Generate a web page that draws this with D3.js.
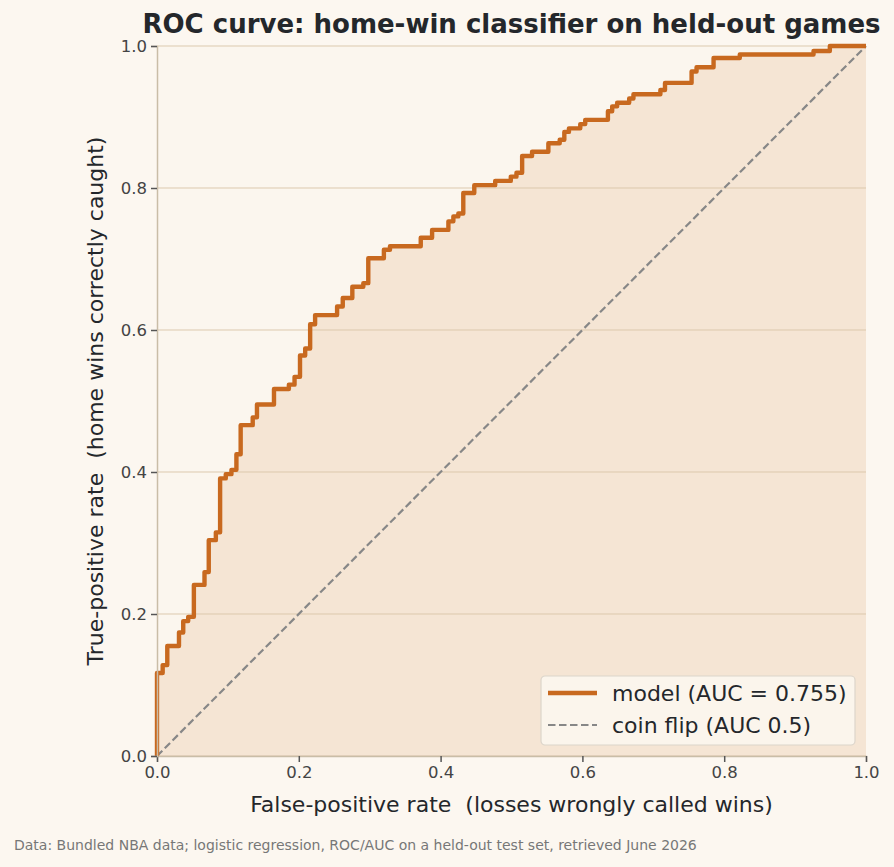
<!DOCTYPE html>
<html>
<head>
<meta charset="utf-8">
<script src="https://cdn.jsdelivr.net/npm/d3@7"></script>
<style>
  html, body { margin: 0; padding: 0; background: #fcf7f0; }
  svg { display: block; font-family: "DejaVu Sans", sans-serif; }
  text { white-space: pre; }
</style>
</head>
<body>
<div id="chart"></div>
<script>
// ROC corner points: at each fpr the curve rises to tpr
const fprSteps = [0, 0, 0.008, 0.0145, 0.031, 0.037, 0.044, 0.052, 0.067, 0.073, 0.083,
    0.089, 0.097, 0.105, 0.112, 0.118, 0.135, 0.141, 0.165, 0.186, 0.194,
    0.2017, 0.209, 0.216, 0.223, 0.254, 0.262, 0.2755, 0.291, 0.298, 0.320,
    0.3286, 0.372, 0.388, 0.411, 0.418, 0.425, 0.432, 0.4475, 0.477, 0.499,
    0.507, 0.515, 0.529, 0.552, 0.568, 0.5745, 0.581, 0.597, 0.604, 0.636,
    0.642, 0.649, 0.666, 0.672, 0.710, 0.7165, 0.754, 0.761, 0.785, 0.822,
    0.926, 0.949, 1.0];
const tprSteps = [0, 0.117, 0.128, 0.155, 0.174, 0.190, 0.196, 0.241, 0.259, 0.304, 0.315,
    0.391, 0.397, 0.403, 0.425, 0.466, 0.477, 0.495, 0.517, 0.523, 0.534,
    0.564, 0.574, 0.608, 0.621, 0.633, 0.645, 0.661, 0.666, 0.701, 0.713,
    0.718, 0.730, 0.741, 0.753, 0.760, 0.764, 0.793, 0.804, 0.810, 0.816,
    0.8215, 0.845, 0.851, 0.863, 0.868, 0.879, 0.884, 0.890, 0.896, 0.908,
    0.915, 0.920, 0.926, 0.932, 0.938, 0.948, 0.964, 0.970, 0.983, 0.988,
    0.993, 1.0, 1.0];
const chanceLine = [[0, 0], [1, 1]];
const tickValues = [0, 0.2, 0.4, 0.6, 0.8, 1.0];
const legendLabels = ["model (AUC = 0.755)", "coin flip (AUC 0.5)"];

const rocData = fprSteps.map((f, i) => ({ fpr: f, tpr: tprSteps[i] }));

const width = 894, height = 867;
const margin = { top: 46, right: 28, bottom: 111, left: 157 };
const innerW = width - margin.left - margin.right;
const innerH = height - margin.top - margin.bottom;

const svg = d3.select("#chart").append("svg")
    .attr("width", width)
    .attr("height", height);

svg.append("rect").attr("width", width).attr("height", height).attr("fill", "#fcf7f0");

const g = svg.append("g")
    .attr("transform", `translate(${margin.left},${margin.top})`);

const x = d3.scaleLinear().domain([0, 1]).range([0, innerW]);
const y = d3.scaleLinear().domain([0, 1]).range([innerH, 0]);

// plot background
g.append("rect").attr("width", innerW).attr("height", innerH).attr("fill", "#fbf6ee");

// area under the ROC
const area = d3.area()
    .curve(d3.curveStepAfter)
    .x(d => x(d.fpr))
    .y0(y(0))
    .y1(d => y(d.tpr));

g.append("path")
    .datum(rocData)
    .attr("d", area)
    .attr("fill", "#f5e5d4");

// horizontal grid
g.append("g")
    .selectAll("line")
    .data(tickValues)
    .join("line")
    .attr("x1", 0).attr("x2", innerW)
    .attr("y1", d => y(d)).attr("y2", d => y(d))
    .attr("stroke", "#dac7ab")
    .attr("stroke-opacity", 0.95)
    .attr("stroke-width", 1);

// coin flip diagonal
g.append("path")
    .datum(chanceLine)
    .attr("d", d3.line().x(d => x(d[0])).y(d => y(d[1])))
    .attr("fill", "none")
    .attr("stroke", "#878787")
    .attr("stroke-width", 2.2)
    .attr("stroke-dasharray", "7.5,3.5");

// ROC line
const line = d3.line()
    .curve(d3.curveStepAfter)
    .x(d => x(d.fpr))
    .y(d => y(d.tpr));

g.append("path")
    .datum(rocData)
    .attr("d", line)
    .attr("fill", "none")
    .attr("stroke", "#c8691f")
    .attr("stroke-width", 4.4)
    .attr("stroke-linejoin", "round");

// axes
const xAxis = g.append("g")
    .attr("transform", `translate(0,${innerH})`)
    .call(d3.axisBottom(x).tickValues(tickValues).tickFormat(d3.format(".1f")).tickSize(6).tickPadding(4));

const yAxis = g.append("g")
    .call(d3.axisLeft(y).tickValues(tickValues).tickFormat(d3.format(".1f")).tickSize(6).tickPadding(4));

[xAxis, yAxis].forEach(ax => {
    ax.select(".domain").attr("stroke", "#c9bda7").attr("stroke-width", 1.5);
    ax.selectAll(".tick line").attr("stroke", "#555").attr("stroke-width", 1.5);
    ax.selectAll(".tick text")
        .attr("fill", "#444")
        .style("font-size", "16.5px")
        .style("font-family", "DejaVu Sans, sans-serif");
});

// title
svg.append("text")
    .attr("x", margin.left + innerW / 2)
    .attr("y", 33)
    .attr("text-anchor", "middle")
    .attr("fill", "#24272b")
    .style("font-size", "26px")
    .style("font-weight", "bold")
    .text("ROC curve: home-win classifier on held-out games");

// axis labels
svg.append("text")
    .attr("x", margin.left + innerW / 2)
    .attr("y", 812)
    .attr("text-anchor", "middle")
    .attr("fill", "#24272b")
    .style("font-size", "22px")
    .text("False-positive rate  (losses wrongly called wins)");

svg.append("text")
    .attr("transform", `translate(103,${margin.top + innerH / 2}) rotate(-90)`)
    .attr("text-anchor", "middle")
    .attr("fill", "#24272b")
    .style("font-size", "22px")
    .text("True-positive rate  (home wins correctly caught)");

// legend
const legend = g.append("g")
    .attr("transform", `translate(${x(1) - 325},${innerH - 80})`);

legend.append("rect")
    .attr("width", 314).attr("height", 69)
    .attr("rx", 4)
    .attr("fill", "#fbf5ec")
    .attr("stroke", "#dcd5ca")
    .attr("stroke-width", 1.2);

const legendStyles = [
    { stroke: "#c8691f", width: 4.4, dash: null },
    { stroke: "#878787", width: 2.2, dash: "7.5,3.5" }
];

legend.selectAll(".legend-row")
    .data(legendLabels)
    .join("g")
    .attr("class", "legend-row")
    .attr("transform", (d, i) => `translate(0,${17 + i * 32})`)
    .each(function(d, i) {
        const row = d3.select(this);
        row.append("line")
            .attr("x1", 7).attr("x2", 56)
            .attr("stroke", legendStyles[i].stroke)
            .attr("stroke-width", legendStyles[i].width)
            .attr("stroke-dasharray", legendStyles[i].dash);
        row.append("text")
            .attr("x", 71)
            .attr("dy", "0.35em")
            .attr("fill", "#24272b")
            .style("font-size", "22px")
            .text(d);
    });

// source note
svg.append("text")
    .attr("x", 14)
    .attr("y", 850)
    .attr("fill", "#777")
    .style("font-size", "14px")
    .text("Data: Bundled NBA data; logistic regression, ROC/AUC on a held-out test set, retrieved June 2026");
</script>
</body>
</html>
